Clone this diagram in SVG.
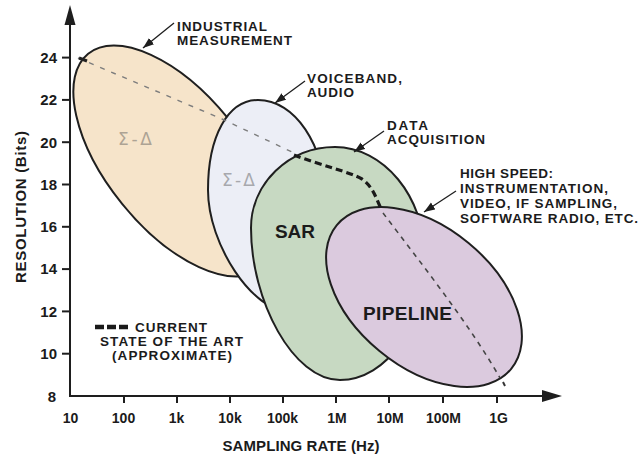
<svg xmlns="http://www.w3.org/2000/svg" width="642" height="461" viewBox="0 0 642 461">
  <style>
    .lbl{font-family:"Liberation Sans",Arial,sans-serif;font-weight:bold;font-size:15px;fill:#1b1b1b}
    .note{font-size:13.5px}
    .big{font-size:19px}
    .sd{font-family:"DejaVu Sans","Liberation Sans",sans-serif;font-size:17px;fill:#555;opacity:.45}
    .ax{stroke:#1e1e1e;stroke-width:2;fill:none}
    .region{stroke:#1f1f1f;stroke-width:2}
    .call{stroke:#1e1e1e;stroke-width:1.3;fill:none;marker-end:url(#ah)}
  </style>
  <defs>
    <marker id="ah" markerUnits="userSpaceOnUse" markerWidth="12" markerHeight="9" refX="11" refY="4" orient="auto">
      <path d="M0,0 L11,4 L0,8 Z" fill="#1e1e1e"/>
    </marker>
  </defs>
  <rect width="642" height="461" fill="#ffffff"/>

  <!-- ADC architecture regions, back to front -->
  <g id="industrial">
    <ellipse class="region" cx="175" cy="161" rx="138" ry="68" transform="rotate(51 175 161)" fill="#f6e4ca"/>
    <text class="sd" x="118" y="145" textLength="34">Σ-Δ</text>
  </g>
  <g id="voiceband">
    <path class="region" fill="#eceef6" d="M258,100 C294.9,100 325,145 325,200 C325,261.6 309.3,312 290,312 C253.1,312 208,244.9 208,190 C208,136 228,100 258,100 Z"/>
    <text class="sd" x="222" y="186" textLength="33">Σ-Δ</text>
  </g>
  <g id="sar">
    <path class="region" fill="#c7d9c2" d="M335,147 C383,147 425,196 425,258 C425,325 386.8,380 340,380 C293.2,380 251,301 251,228 C251,183.5 288.8,147 335,147 Z"/>
    <text class="lbl big" x="275" y="238" textLength="40">SAR</text>
  </g>
  <g id="pipeline">
    <ellipse class="region" cx="424" cy="297" rx="113" ry="70" transform="rotate(39.5 424 297)" fill="#dbcade"/>
    <text class="lbl big" x="363" y="320" textLength="89" fill="#262630">PIPELINE</text>
  </g>

  <!-- state-of-the-art trace and callout leaders -->
  <g id="connectors">
    <path d="M78,58 L222,119 L292,152" fill="none" stroke="#7d7d7d" stroke-width="1.4" stroke-dasharray="5 7"/>
    <path d="M79,58 L87,61" stroke="#222" stroke-width="3"/>
    <path d="M294,155 C320,165 350,172 362,179 C372,186 376,197 381,209" fill="none" stroke="#1a1a1a" stroke-width="3.2" stroke-dasharray="7 4"/>
    <path d="M383,213 C420,262 470,325 500,378" fill="none" stroke="#454545" stroke-width="1.6" stroke-dasharray="5 5"/>
    <path d="M503,382 L505,386" stroke="#333" stroke-width="2"/>
    <line class="call" x1="174" y1="23" x2="143" y2="48"/>
    <line class="call" x1="305" y1="81" x2="275" y2="103"/>
    <line class="call" x1="384" y1="131" x2="354" y2="152"/>
    <line class="call" x1="456" y1="191" x2="424" y2="212"/>
  </g>

  <!-- callout labels -->
  <g id="labels" class="lbl note">
    <text x="177" y="31" textLength="90">INDUSTRIAL</text>
    <text x="177" y="45" textLength="115">MEASUREMENT</text>
    <text x="307" y="83" textLength="95">VOICEBAND,</text>
    <text x="307" y="97" textLength="47">AUDIO</text>
    <text x="387" y="130" textLength="41">DATA</text>
    <text x="387" y="144" textLength="98">ACQUISITION</text>
    <text x="460" y="178" textLength="93">HIGH SPEED:</text>
    <text x="460" y="193" textLength="148">INSTRUMENTATION,</text>
    <text x="460" y="208" textLength="157">VIDEO, IF SAMPLING,</text>
    <text x="460" y="223" textLength="178">SOFTWARE RADIO, ETC.</text>
  </g>

  <!-- axes -->
  <g id="axes">
    <line class="ax" x1="70" y1="22" x2="70" y2="397"/>
    <path d="M70,5 L75.5,25 L64.5,25 Z" fill="#1e1e1e"/>
    <line class="ax" x1="69" y1="396" x2="545" y2="396"/>
    <path d="M562,396 L542,390 L542,402 Z" fill="#1e1e1e"/>
    <g class="ax">
      <line x1="62" y1="57.6" x2="70" y2="57.6"/>
      <line x1="62" y1="99.9" x2="70" y2="99.9"/>
      <line x1="62" y1="142.2" x2="70" y2="142.2"/>
      <line x1="62" y1="184.5" x2="70" y2="184.5"/>
      <line x1="62" y1="226.8" x2="70" y2="226.8"/>
      <line x1="62" y1="269.1" x2="70" y2="269.1"/>
      <line x1="62" y1="311.4" x2="70" y2="311.4"/>
      <line x1="62" y1="353.7" x2="70" y2="353.7"/>
      <line x1="124" y1="396" x2="124" y2="403"/>
      <line x1="177" y1="396" x2="177" y2="403"/>
      <line x1="230" y1="396" x2="230" y2="403"/>
      <line x1="283" y1="396" x2="283" y2="403"/>
      <line x1="336" y1="396" x2="336" y2="403"/>
      <line x1="389" y1="396" x2="389" y2="403"/>
      <line x1="443" y1="396" x2="443" y2="403"/>
      <line x1="497" y1="396" x2="497" y2="403"/>
    </g>
    <g class="lbl" text-anchor="end">
      <text x="57" y="63">24</text>
      <text x="57" y="105">22</text>
      <text x="57" y="148">20</text>
      <text x="57" y="190">18</text>
      <text x="57" y="232">16</text>
      <text x="57" y="274">14</text>
      <text x="57" y="317">12</text>
      <text x="57" y="359">10</text>
      <text x="56" y="402">8</text>
    </g>
    <g class="lbl" text-anchor="middle" style="font-size:14px">
      <text x="70.5" y="423">10</text>
      <text x="123.5" y="423">100</text>
      <text x="176.5" y="423">1k</text>
      <text x="230" y="423">10k</text>
      <text x="282.5" y="423">100k</text>
      <text x="337" y="423">1M</text>
      <text x="390" y="423">10M</text>
      <text x="443.5" y="423">100M</text>
      <text x="498.5" y="423">1G</text>
    </g>
    <text class="lbl" x="301" y="451" text-anchor="middle" textLength="157">SAMPLING RATE (Hz)</text>
    <text class="lbl" transform="translate(25.5 207) rotate(-90)" text-anchor="middle" textLength="152">RESOLUTION (Bits)</text>
  </g>

  <!-- legend -->
  <g id="legend">
    <line x1="95" y1="327" x2="128" y2="327" stroke="#1a1a1a" stroke-width="4.5" stroke-dasharray="9 3"/>
    <g class="lbl note">
      <text x="135" y="332" textLength="72">CURRENT</text>
      <text x="100" y="346" textLength="143">STATE OF THE ART</text>
      <text x="112" y="360" textLength="120">(APPROXIMATE)</text>
    </g>
  </g>
</svg>
